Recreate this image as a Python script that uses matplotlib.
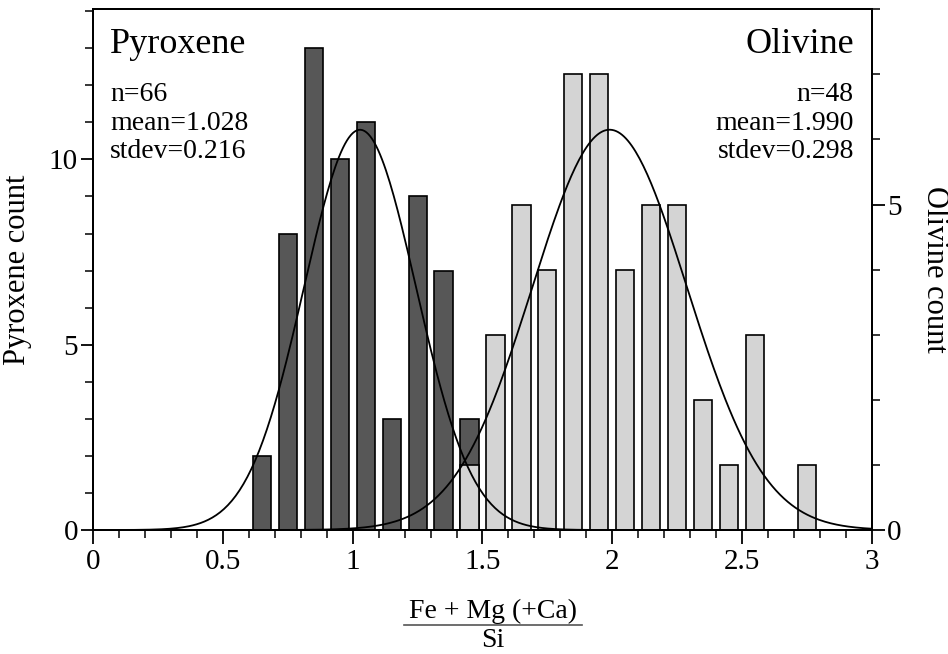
import numpy as np
import matplotlib
matplotlib.use('Agg')
import matplotlib.pyplot as plt
from matplotlib.ticker import MultipleLocator, FuncFormatter
from matplotlib.lines import Line2D

# data
pyx_centers = [0.65, 0.75, 0.85, 0.95, 1.05, 1.15, 1.25, 1.35, 1.45]
pyx_counts = [2, 8, 13, 10, 11, 3, 9, 7, 3]
oli_centers = [1.45, 1.55, 1.65, 1.75, 1.85, 1.95, 2.05, 2.15, 2.25, 2.35, 2.45, 2.55, 2.75]
oli_counts = [1, 3, 5, 4, 7, 7, 4, 5, 5, 2, 1, 3, 1]

pyx_mean, pyx_std, pyx_peak = 1.028, 0.216, 10.8   # peak in pyroxene-count units
oli_mean, oli_std, oli_peak = 1.990, 0.298, 6.15   # peak in olivine-count units
pyx_stats = ['n=66', 'mean=1.028', 'stdev=0.216']
oli_stats = ['n=48', 'mean=1.990', 'stdev=0.298']

plt.rcParams['font.family'] = ['Liberation Serif', 'DejaVu Serif']

fig = plt.figure(figsize=(9.48, 6.54), dpi=100)
ax = fig.add_axes([93.3 / 948, 1 - 530 / 654, 778.4 / 948, 520.7 / 654])
ax2 = ax.twinx()

ax.bar(pyx_centers, pyx_counts, width=0.07, color='#575757', edgecolor='black', linewidth=1.2)
ax2.bar(oli_centers, oli_counts, width=0.07, color='#d4d4d4', edgecolor='black', linewidth=1.2)

# fitted normal curves
xs = np.linspace(0, 3, 400)
ax2.plot(xs, pyx_peak * np.exp(-0.5 * ((xs - pyx_mean) / pyx_std) ** 2),
         color='black', lw=1.3, transform=ax.transData)
ax2.plot(xs, oli_peak * np.exp(-0.5 * ((xs - oli_mean) / oli_std) ** 2),
         color='black', lw=1.3)

ax.set_xlim(0, 3)
ax.set_ylim(0, 14.05)
ax2.set_ylim(0, 8.0)

ax.xaxis.set_major_locator(MultipleLocator(0.5))
ax.xaxis.set_minor_locator(MultipleLocator(0.1))
ax.xaxis.set_major_formatter(FuncFormatter(lambda v, p: '%g' % v))
ax.yaxis.set_major_locator(MultipleLocator(5))
ax.yaxis.set_minor_locator(MultipleLocator(1))
ax2.yaxis.set_major_locator(MultipleLocator(5))
ax2.yaxis.set_minor_locator(MultipleLocator(1))

for a in (ax, ax2):
    a.tick_params(which='major', direction='out', length=9, width=1.3, labelsize=21, pad=2)
    a.tick_params(which='minor', direction='out', length=6, width=1.1)
    for s in a.spines.values():
        s.set_linewidth(1.4)
ax.tick_params(axis='x', which='major', length=10, pad=4)

ax.set_ylabel('Pyroxene count', fontsize=22, labelpad=12)
ax2.set_ylabel('Olivine count', fontsize=22, rotation=270, labelpad=34)

# fraction-style x label
fig.text(493 / 948, 1 - 618 / 654, 'Fe + Mg (+Ca)', fontsize=20, ha='center', va='baseline')
fig.text(493 / 948, 1 - 647 / 654, 'Si', fontsize=20, ha='center', va='baseline')
fig.add_artist(Line2D([404 / 948, 582 / 948], [1 - 625 / 654, 1 - 625 / 654],
                      transform=fig.transFigure, color='#555555', lw=1.2))

ax2.text(0.0215, 0.916, 'Pyroxene', transform=ax.transAxes, fontsize=26, va='baseline')
ax2.text(0.977, 0.916, 'Olivine', transform=ax.transAxes, fontsize=26, va='baseline', ha='right')
for i, (p, o) in enumerate(zip(pyx_stats, oli_stats)):
    yy = 0.823 - i * 0.0545
    ax2.text(0.0215, yy, p, transform=ax.transAxes, fontsize=20, va='baseline')
    ax2.text(0.977, yy, o, transform=ax.transAxes, fontsize=20, va='baseline', ha='right')

fig.savefig('out.png', dpi=100)
